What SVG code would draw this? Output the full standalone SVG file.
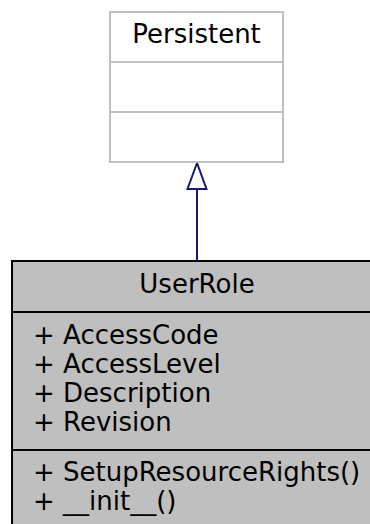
<svg xmlns="http://www.w3.org/2000/svg" width="370" height="524" viewBox="0 0 370 524">
<style>
text{font-family:"DejaVu Sans",sans-serif;font-size:26px;fill:#000}
.c{text-anchor:middle}
.gray{fill:#fff;stroke:#bfbfbf;stroke-width:2}
.blk{fill:#bfbfbf;stroke:#000;stroke-width:2}
.gl{stroke:#bfbfbf;stroke-width:2}
.bl{stroke:#000;stroke-width:2}
</style>
<rect width="370" height="524" fill="#fff"/>
<g id="connectors">
<line x1="197" y1="189" x2="197" y2="261" stroke="#191970" stroke-width="2"/>
<polygon points="197,163 187.5,189 206.5,189" fill="#fff" stroke="#191970" stroke-width="2"/>
</g>
<g id="Persistent">
<rect class="gray" x="110" y="12" width="173" height="150"/>
<line class="gl" x1="110" y1="62" x2="283" y2="62"/>
<line class="gl" x1="110" y1="112" x2="283" y2="112"/>
<text class="c" x="196.5" y="43">Persistent</text>
</g>
<g id="UserRole">
<rect class="blk" x="12" y="261" width="370" height="300"/>
<line class="bl" x1="12" y1="312" x2="382" y2="312"/>
<line class="bl" x1="12" y1="450" x2="382" y2="450"/>
<text class="c" x="197" y="293">UserRole</text>
<text x="33" y="344">+ AccessCode</text>
<text x="33" y="373">+ AccessLevel</text>
<text x="33" y="402">+ Description</text>
<text x="33" y="431">+ Revision</text>
<text x="33" y="481">+ SetupResourceRights()</text>
<text x="33" y="510">+ __init__()</text>
</g>
</svg>
